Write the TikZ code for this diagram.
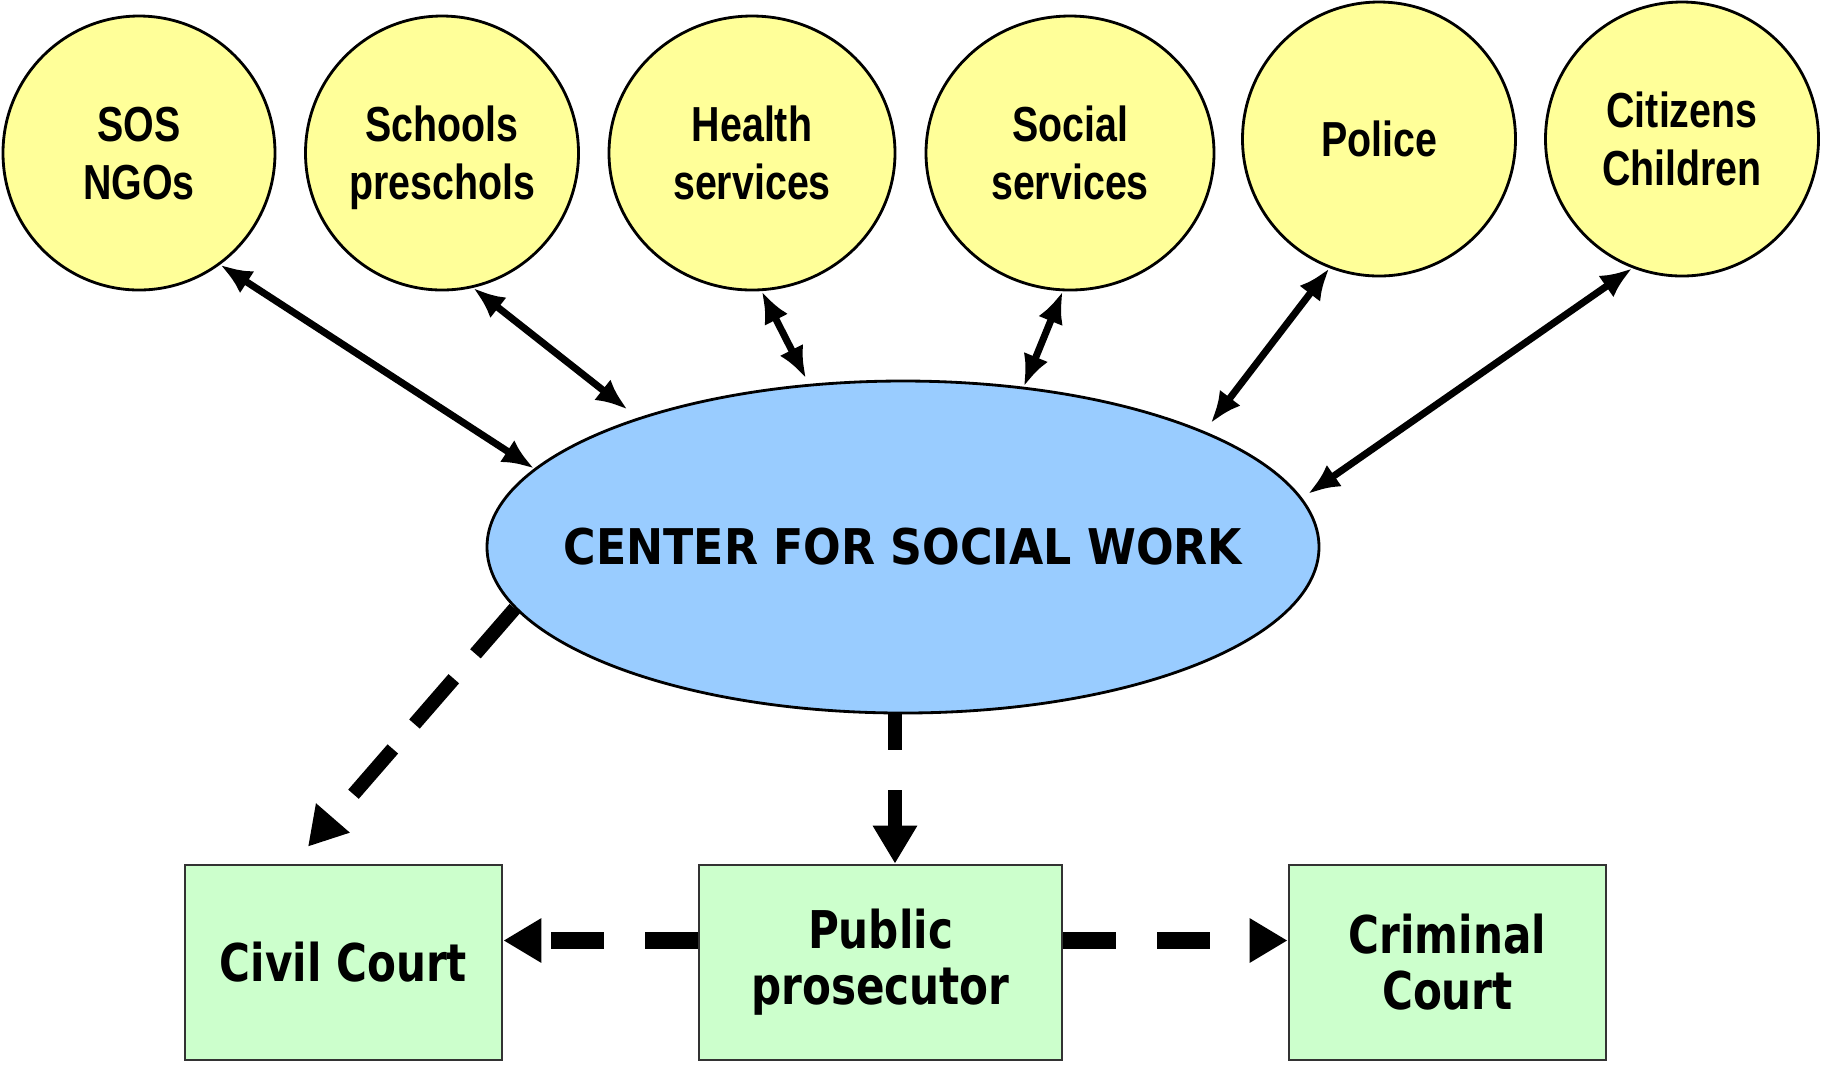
\documentclass[tikz,border=0pt]{standalone}
\usepackage{fontspec}
\newfontfamily\circfont[FakeStretch=0.8]{Liberation Sans}
\newfontfamily\boxfont[FakeStretch=0.81]{DejaVu Sans}
\newfontfamily\centfont[FakeStretch=0.9]{DejaVu Sans}
\usetikzlibrary{shapes.geometric,arrows.meta}
\definecolor{circyellow}{HTML}{FFFF99}
\definecolor{centblue}{HTML}{99CCFF}
\definecolor{boxgreen}{HTML}{CCFFCC}

\begin{document}
\begin{tikzpicture}[
  agency/.style={ellipse,draw,fill=circyellow,line width=0.8pt,inner sep=0pt,text depth=-1pt,minimum height=2.74cm,align=center,font=\circfont\bfseries\fontsize{14pt}{16.5pt}\selectfont},
  court/.style={rectangle,draw=black!80,fill=boxgreen,line width=0.8pt,minimum width=3.17cm,minimum height=1.95cm,align=center,font=\boxfont\bfseries\fontsize{14.8pt}{15.9pt}\selectfont},
  link/.style={line width=2pt,{Latex[length=3.2mm,width=2.6mm]}-{Latex[length=3.2mm,width=2.6mm]}},
  refer/.style={line width=0.14cm,dash pattern=on 0.53cm off 0.41cm,-{Triangle[length=0.38cm,width=0.42cm]}}
]
\useasboundingbox (0,0) rectangle (18.21,-10.64);
% Partners
\node[agency,minimum width=2.72cm] (sos) at (1.39,-1.53) {SOS\\NGOs};
\node[agency,minimum width=2.73cm] (sch) at (4.42,-1.53) {Schools\\preschols};
\node[agency,minimum width=2.86cm] (hea) at (7.52,-1.53) {Health\\services};
\node[agency,minimum width=2.88cm] (soc) at (10.70,-1.53) {Social\\services};
\node[agency,minimum width=2.73cm] (pol) at (13.79,-1.39) {Police};
\node[agency,minimum width=2.73cm] (cit) at (16.82,-1.39) {Citizens\\Children};
% Center
\node[ellipse,draw,fill=centblue,line width=0.8pt,inner sep=0pt,minimum width=8.32cm,minimum height=3.32cm,font=\centfont\bfseries\fontsize{14pt}{16pt}\selectfont] (cent) at (9.03,-5.47) {\makebox[0pt]{CENTER FOR SOCIAL WORK}};
% Courts
\node[court] (civ) at (3.435,-9.625) {Civil Court};
\node[court,minimum width=3.63cm] (pub) at (8.805,-9.625) {Public\\prosecutor};
\node[court] (crim) at (14.475,-9.625) {Criminal\\Court};
% Two-way links
\draw[link] (sos.-54) -- (cent.168);
\draw[link,shorten >=1.3mm] (sch.-77) -- (cent.154);
\draw[link,shorten >=0.6mm] (hea.-86) -- (cent.120);
\draw[link] (soc.-93) -- (cent.53);
\draw[link,shorten >=1mm] (pol.-111) -- (cent.21);
\draw[link,shorten >=0.7mm] (cit.-111) -- (cent.7);
% Referrals
\draw[refer,dash pattern=on 0.6cm off 0.33cm] (cent.189) -- ([xshift=-3.55mm,yshift=1.7mm]civ.north);
\draw[refer,dash pattern=on 0.36cm off 0.4cm] ([xshift=-0.8mm]cent.south) -- ([xshift=-0.8mm]cent.south |- pub.north);
\draw[refer,line width=0.17cm] ([yshift=2.2mm]pub.west) -- ([yshift=2.2mm]civ.east);
\draw[refer,line width=0.17cm] ([yshift=2.2mm]pub.east) -- ([yshift=2.2mm]crim.west);
\end{tikzpicture}
\end{document}
